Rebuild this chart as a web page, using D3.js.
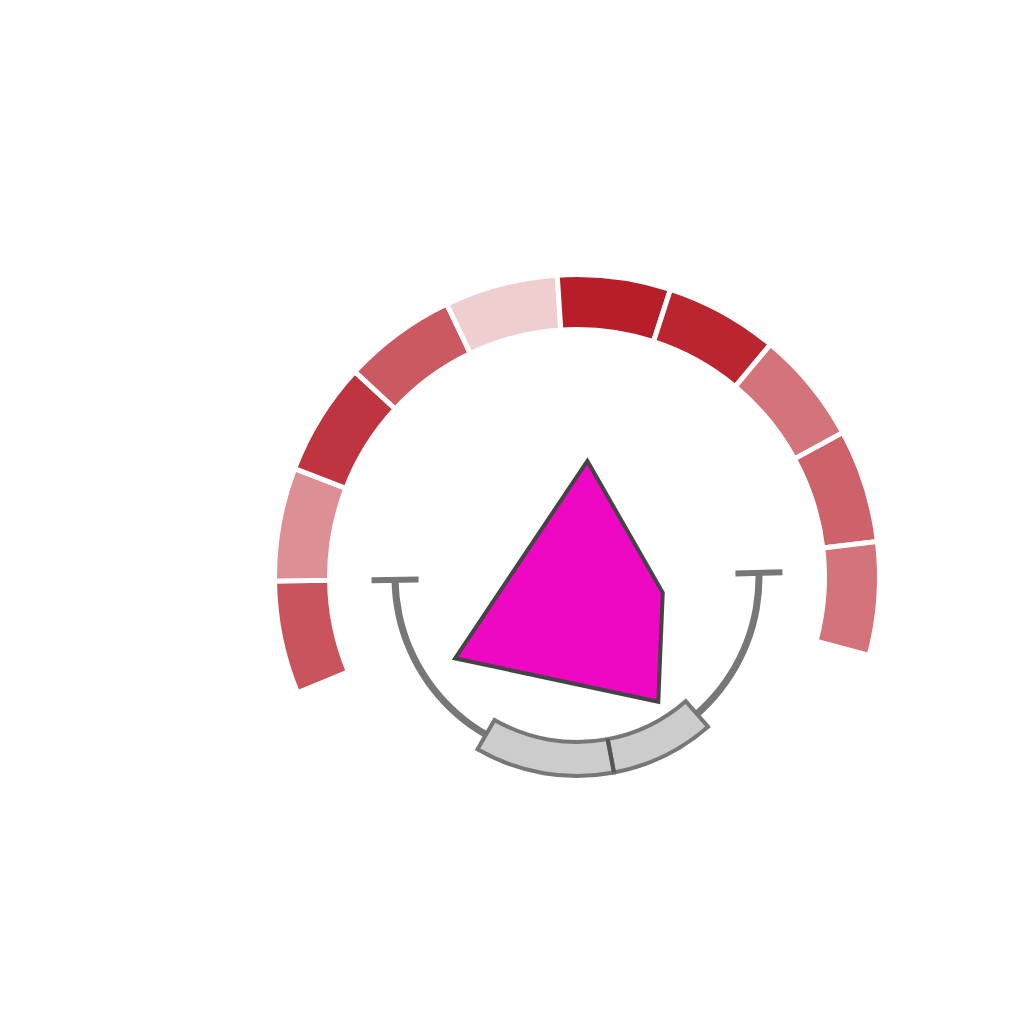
<!DOCTYPE html>
<html>
<head>
<meta charset="utf-8">
<script src="https://cdn.jsdelivr.net/npm/d3@7"></script>
<style>
  html, body { margin: 0; padding: 0; background: #ffffff; }
  svg { display: block; }
</style>
</head>
<body>
<svg id="chart" width="1024" height="1024"></svg>
<script>
// ---- data ----
const segmentNames = ["S1", "S2", "S3", "S4", "S5", "S6", "S7", "S8", "S9", "S10"];
const segmentValues = [0.76, 0.50, 0.90, 0.74, 0.22, 1.00, 0.97, 0.62, 0.70, 0.62];

const bracketRange = [88.7, 269.1];          // degrees, clockwise from top
const boxNames = ["B1", "B2"];
const boxStarts = [138.8, 169.3];            // degrees
const boxEnds = [169.3, 210.0];              // degrees

const polyAngles = [5.1, 100.4, 146.9, 236.3]; // degrees
const polyValues = [64.0, 47.9, 81.8, 80.5];   // radial value (0-100)

// ---- layout ----
const svg = d3.select("#chart");
const cx = 577, cy = 577;
const g = svg.append("g").attr("transform", `translate(${cx},${cy})`);
const deg = d => d * Math.PI / 180;

// outer ring
const ringScale = d3.scaleBand().domain(segmentNames).range([deg(-112.5), deg(105.0)]).padding(0);
const color = d3.scaleLinear().domain([0, 1]).range(["#ffffff", "#b81e2a"]);
const ringArc = d3.arc().innerRadius(247.5).outerRadius(302.5);

g.selectAll("path.seg")
  .data(segmentNames.map((n, i) => ({ name: n, value: segmentValues[i] })))
  .join("path")
  .attr("class", "seg")
  .attr("d", d => ringArc({ startAngle: ringScale(d.name), endAngle: ringScale(d.name) + ringScale.bandwidth() }))
  .attr("fill", d => color(d.value))
  .attr("stroke", "#ffffff")
  .attr("stroke-width", 5);

// radial scale for inner parts
const r = d3.scaleLinear().domain([0, 100]).range([0, 182]);

// bracket arc
const bracketArc = d3.arc().innerRadius(r(100) - 3.5).outerRadius(r(100) + 3.5);
g.append("path")
  .attr("d", bracketArc({ startAngle: deg(bracketRange[0]), endAngle: deg(bracketRange[1]) }))
  .attr("fill", "#777777");

// bracket end ticks
g.selectAll("line.tick")
  .data(bracketRange)
  .join("line")
  .attr("class", "tick")
  .attr("x1", d => Math.sin(deg(d)) * (r(100) - 23.5))
  .attr("y1", d => -Math.cos(deg(d)) * (r(100) - 23.5))
  .attr("x2", d => Math.sin(deg(d)) * (r(100) + 23.5))
  .attr("y2", d => -Math.cos(deg(d)) * (r(100) + 23.5))
  .attr("stroke", "#777777")
  .attr("stroke-width", 6);

// boxes
const boxArc = d3.arc().innerRadius(r(100) - 17).outerRadius(r(100) + 17);
const boxes = boxNames.map((n, i) => ({ name: n, s: boxStarts[i], e: boxEnds[i] }));
g.selectAll("path.box")
  .data(boxes)
  .join("path")
  .attr("class", "box")
  .attr("d", d => boxArc({ startAngle: deg(d.s), endAngle: deg(d.e) }))
  .attr("fill", "#cccccc")
  .attr("stroke", "#777777")
  .attr("stroke-width", 4);

// divider between adjacent boxes
g.selectAll("line.div")
  .data(boxes.slice(1))
  .join("line")
  .attr("class", "div")
  .attr("x1", d => Math.sin(deg(d.s)) * (r(100) - 17))
  .attr("y1", d => -Math.cos(deg(d.s)) * (r(100) - 17))
  .attr("x2", d => Math.sin(deg(d.s)) * (r(100) + 17))
  .attr("y2", d => -Math.cos(deg(d.s)) * (r(100) + 17))
  .attr("stroke", "#555555")
  .attr("stroke-width", 4);

// polygon
const radial = d3.lineRadial()
  .angle(d => deg(d.a))
  .radius(d => r(d.v))
  .curve(d3.curveLinearClosed);
g.append("path")
  .datum(polyAngles.map((a, i) => ({ a, v: polyValues[i] })))
  .attr("d", radial)
  .attr("fill", "#ee08c4")
  .attr("stroke", "#444444")
  .attr("stroke-width", 4)
  .attr("stroke-linejoin", "miter");
</script>
</body>
</html>
